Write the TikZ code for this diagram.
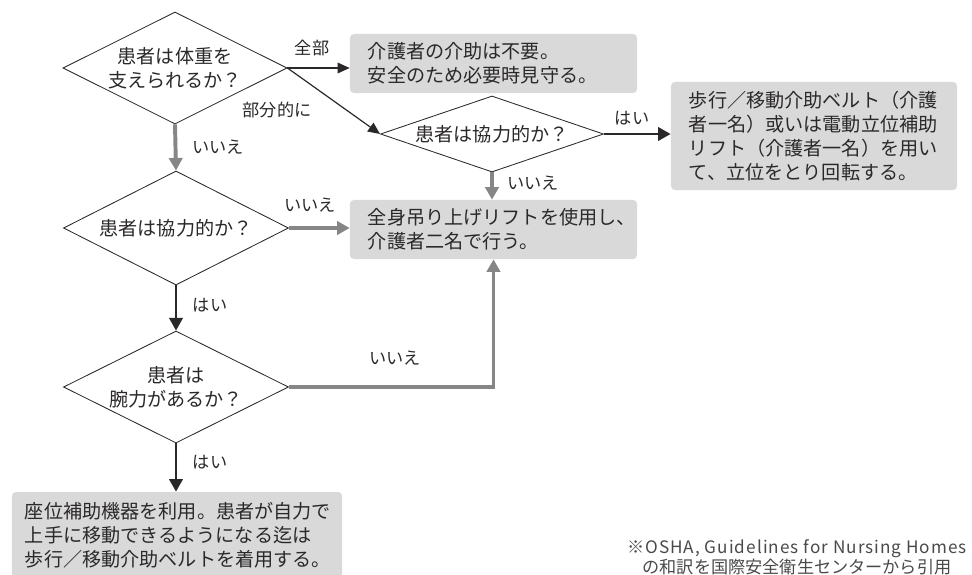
\documentclass[tikz,border=0pt]{standalone}
\usepackage{fontspec}
\setmainfont{Noto Sans CJK JP}
\usetikzlibrary{shapes.geometric,arrows.meta}
\definecolor{ink}{HTML}{2B2829}
\definecolor{boxgray}{HTML}{D9D9DA}
\definecolor{linegray}{HTML}{868686}
\tikzset{
    every node/.style={text=ink, font=\fontsize{13.6pt}{17pt}\selectfont}
}
\tikzset{
    question/.style={diamond, draw=ink, line width=0.6pt, fill=white,
    	aspect=2, inner sep=0pt, align=center},
    action/.style={rectangle, rounded corners=0.1cm, fill=boxgray,
    	inner xsep=0.45cm, inner ysep=0pt, align=left},
    tag/.style={font=\fontsize{12.2pt}{14pt}\selectfont, inner sep=0pt}
}
\tikzset{
    thinarrow/.style={draw=ink, line width=0.85pt,
    	-{Triangle[length=8.5pt, width=7.5pt]}},
    boldarrow/.style={draw=ink, line width=2pt,
    	-{Triangle[length=9pt, width=9.5pt]}},
    grayarrow/.style={draw=linegray, line width=2.8pt,
    	-{Triangle[length=9pt, width=9.5pt]}}
}

\begin{document}
\begin{tikzpicture}[x=0.025cm, y=-0.025cm]
  \useasboundingbox (0,0) rectangle (972,574);

  \node (q1) [question, minimum width=5.6cm, minimum height=2.8cm] at (175,68) {患者は体重を\\支えられるか？};
  \node (q2) [question, aspect=3, minimum width=5.575cm, minimum height=1.9cm] at (492,134) {患者は協力的か？};
  \node (q3) [question, minimum width=5.625cm, minimum height=2.85cm] at (176,228) {患者は協力的か？};
  \node (q4) [question, minimum width=5.625cm, minimum height=2.8cm] at (176,387) {患者は\\腕力があるか？};

  \node (act1) [action, minimum width=7.175cm, minimum height=1.475cm, text width=6.275cm] at (493.5,63.5) {介護者の介助は不要。\\安全のため必要時見守る。};
  \node (act2) [action, minimum width=7.175cm, minimum height=1.475cm, text width=6.275cm] at (493.5,229.5) {全身吊り上げリフトを使用し、\\介護者二名で行う。};
  \node (act3) [action, minimum width=7.15cm, minimum height=2.7cm, text width=6.25cm] at (814,136) {歩行／移動介助ベルト（介護\\者一名）或いは電動立位補助\\リフト（介護者一名）を用い\\て、立位をとり回転する。};
  \node (act4) [action, inner xsep=0.325cm, minimum width=8.25cm, minimum height=2.15cm, text width=7.6cm] at (177,535) {座位補助機器を利用。患者が自力で\\上手に移動できるようになる迄は\\歩行／移動介助ベルトを着用する。};

  \node (all) [tag] at (312,48) {全部};
  \node (part) [tag] at (277,110) {部分的に};
  \node (no1) [tag] at (218,147) {いいえ};
  \node (yes2) [tag] at (632,118) {はい};
  \node (no2) [tag] at (533,183) {いいえ};
  \node (no3) [tag] at (310,205) {いいえ};
  \node (yes3) [tag] at (210,305) {はい};
  \node (no4) [tag] at (395,358) {いいえ};
  \node (yes4) [tag] at (210,462) {はい};

  \node (src) [font=\fontsize{12.2pt}{14.5pt}\selectfont, align=center, text=ink!85] at (797,557) {{\addfontfeature{LetterSpace=6}※OSHA, Guidelines for Nursing Homes}\\の和訳を国際安全衛生センターから引用};

  \draw [thinarrow] (q1.east) -- (q1.east -| act1.west);
  \draw [thinarrow] (q1.east) -- (q2.west);
  \draw [boldarrow] (q2.east) -- (q2.east -| act3.west);
  \draw [grayarrow] (q2.south) -- (q2.south |- act2.north);
  \draw [grayarrow] (q1.south) -- (q3.north);
  \draw [grayarrow] (q3.east) -- (q3.east -| act2.west);
  \draw [boldarrow] (q3.south) -- (q4.north);
  \draw [grayarrow] (q4.east) -| (act2.south);
  \draw [boldarrow] (q4.south) -- (q4.south |- act4.north);
\end{tikzpicture}
\end{document}
